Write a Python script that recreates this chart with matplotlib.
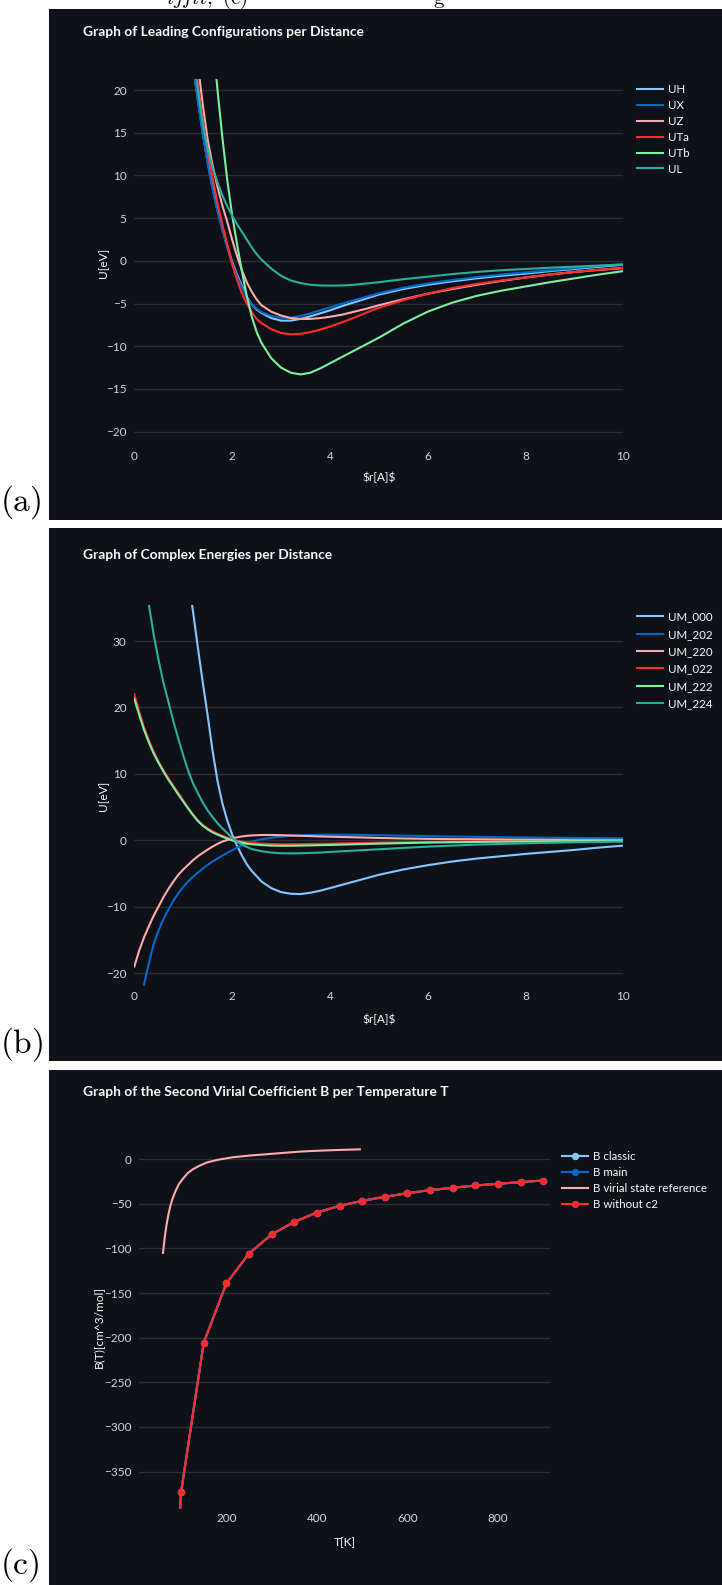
import numpy as np
import matplotlib
matplotlib.use("Agg")
import matplotlib.pyplot as plt
from matplotlib.patches import Rectangle

nan = np.nan

# ---------------- (a) leading configurations, U [eV] vs r [A] ----------------
r_lead = [1.1, 1.2, 1.3, 1.4, 1.5, 1.6, 1.7, 1.8, 1.9, 2.0, 2.1, 2.2, 2.3, 2.4, 2.5, 2.6,
          2.8, 3.0, 3.2, 3.4, 3.6, 3.8, 4.0, 4.25, 4.5, 4.75, 5.0, 5.5, 6.0, 6.5, 7.0, 7.5,
          8.0, 8.5, 9.0, 9.5, 10.0]
UH = [27.5, 23.0, 18.9, 15.0, 11.6, 8.7, 6.0, 3.9, 1.8, -0.1, -1.6, -2.9, -4.2, -5.1, -5.7, -6.1,
      -6.7, -7.0, -7.0, -6.8, -6.5, -6.15, -5.8, -5.3, -4.85, -4.4, -3.95, -3.3, -2.8, -2.4, -2.05, -1.75,
      -1.5, -1.2, -0.95, -0.7, -0.45]
UX = [27.0, 22.8, 18.7, 14.9, 11.4, 8.4, 5.8, 3.6, 1.6, -0.3, -1.8, -3.1, -4.3, -5.1, -5.6, -6.0,
      -6.45, -6.65, -6.65, -6.45, -6.15, -5.8, -5.45, -5.0, -4.6, -4.2, -3.8, -3.15, -2.65, -2.25, -1.9, -1.6,
      -1.35, -1.1, -0.85, -0.6, -0.35]
UZ = [35.0, 28.5, 23.0, 18.3, 14.2, 11.2, 8.7, 6.5, 4.6, 2.5, 0.6, -1.1, -2.5, -3.6, -4.5, -5.2,
      -5.95, -6.4, -6.7, -6.8, -6.8, -6.7, -6.55, -6.3, -5.95, -5.6, -5.2, -4.5, -3.85, -3.3, -2.8, -2.35,
      -1.95, -1.6, -1.3, -1.05, -0.85]
UTa = [31.0, 25.5, 20.8, 16.5, 12.8, 9.7, 6.8, 4.3, 1.9, -0.4, -2.2, -3.8, -5.0, -6.0, -6.8, -7.3,
       -8.0, -8.45, -8.6, -8.55, -8.35, -8.05, -7.7, -7.2, -6.65, -6.05, -5.5, -4.6, -3.85, -3.2, -2.7, -2.3,
       -1.95, -1.6, -1.3, -1.05, -0.8]
UTb = [60.0, 52.0, 44.0, 37.0, 31.0, 26.0, 20.1, 14.5, 9.5, 5.4, 2.0, -1.2, -4.1, -6.5, -8.3, -9.6,
       -11.4, -12.5, -13.1, -13.3, -13.1, -12.6, -12.0, -11.25, -10.5, -9.75, -9.0, -7.35, -5.95, -4.9, -4.1, -3.5,
       -3.0, -2.5, -2.05, -1.6, -1.2]
UL = [30.0, 24.6, 20.0, 16.0, 13.1, 10.9, 9.2, 7.7, 6.4, 5.3, 4.3, 3.4, 2.5, 1.6, 0.8, 0.15,
      -0.9, -1.75, -2.3, -2.6, -2.8, -2.88, -2.9, -2.88, -2.8, -2.65, -2.5, -2.15, -1.85, -1.55, -1.3, -1.1,
      -0.95, -0.8, -0.68, -0.55, -0.45]
lead_names = ["UH", "UX", "UZ", "UTa", "UTb", "UL"]
lead_series = [UH, UX, UZ, UTa, UTb, UL]
lead_yticks = [20, 15, 10, 5, 0, -5, -10, -15, -20]
dist_xticks = [0, 2, 4, 6, 8, 10]

# ---------------- (b) complex energies, U [eV] vs r [A] ----------------
r_cplx = [0.0, 0.1, 0.2, 0.3, 0.4, 0.5, 0.6, 0.7, 0.8, 0.9, 1.0, 1.1, 1.2, 1.3, 1.4, 1.5,
          1.6, 1.7, 1.8, 1.9, 2.0, 2.1, 2.2, 2.3, 2.4, 2.6, 2.8, 3.0, 3.2, 3.4, 3.6, 3.8,
          4.0, 4.5, 5.0, 5.5, 6.0, 6.5, 7.0, 7.5, 8.0, 8.5, 9.0, 9.5, 10.0]
UM_000 = [nan, nan, nan, nan, nan, nan, nan, nan, nan, nan, 47.0, 39.5, 34.5, 29.0, 23.8, 18.8,
          13.5, 9.0, 5.6, 3.0, 0.9, -0.8, -2.3, -3.6, -4.6, -6.2, -7.2, -7.8, -8.05, -8.1, -7.9, -7.6,
          -7.2, -6.2, -5.2, -4.4, -3.75, -3.2, -2.75, -2.4, -2.05, -1.75, -1.45, -1.1, -0.8]
UM_202 = [nan, nan, -21.7, -18.4, -15.5, -13.5, -11.8, -10.4, -9.1, -8.0, -7.0, -6.2, -5.5, -4.85, -4.25, -3.7,
          -3.2, -2.75, -2.3, -1.9, -1.5, -1.1, -0.75, -0.45, -0.2, 0.15, 0.38, 0.55, 0.66, 0.74, 0.8, 0.83,
          0.85, 0.82, 0.76, 0.7, 0.63, 0.57, 0.52, 0.47, 0.43, 0.39, 0.36, 0.33, 0.3]
UM_220 = [-19.0, -16.6, -14.6, -12.9, -11.3, -9.9, -8.5, -7.3, -6.2, -5.2, -4.4, -3.7, -3.0, -2.4, -1.9, -1.4,
          -0.95, -0.55, -0.2, 0.05, 0.3, 0.45, 0.58, 0.67, 0.73, 0.8, 0.8, 0.77, 0.73, 0.68, 0.63, 0.58,
          0.54, 0.45, 0.35, 0.27, 0.22, 0.18, 0.15, 0.12, 0.1, 0.08, 0.07, 0.06, 0.05]
UM_022 = [22.0, 19.4, 17.0, 15.0, 13.3, 11.8, 10.5, 9.3, 8.2, 7.1, 6.0, 4.9, 3.9, 3.0, 2.3, 1.8,
          1.35, 1.0, 0.7, 0.4, 0.15, -0.05, -0.2, -0.3, -0.4, -0.5, -0.55, -0.6, -0.6, -0.58, -0.55, -0.52,
          -0.5, -0.42, -0.35, -0.3, -0.25, -0.2, -0.17, -0.14, -0.12, -0.1, -0.08, -0.06, -0.05]
UM_222 = [21.3, 18.9, 16.6, 14.7, 13.0, 11.6, 10.3, 9.1, 8.0, 6.9, 5.85, 4.8, 3.8, 2.9, 2.2, 1.65,
          1.2, 0.85, 0.55, 0.25, 0.0, -0.2, -0.35, -0.5, -0.6, -0.72, -0.8, -0.82, -0.82, -0.8, -0.77, -0.73,
          -0.7, -0.6, -0.5, -0.42, -0.35, -0.3, -0.25, -0.2, -0.17, -0.14, -0.12, -0.1, -0.08]
UM_224 = [nan, nan, 41.0, 35.4, 30.8, 27.0, 23.6, 20.8, 17.9, 15.3, 12.8, 10.5, 8.6, 7.1, 5.7, 4.5,
          3.5, 2.6, 1.8, 1.1, 0.35, -0.2, -0.65, -1.0, -1.3, -1.65, -1.85, -1.95, -1.97, -1.95, -1.9, -1.85,
          -1.75, -1.55, -1.35, -1.15, -0.95, -0.8, -0.65, -0.55, -0.45, -0.37, -0.3, -0.25, -0.2]
cplx_names = ["UM_000", "UM_202", "UM_220", "UM_022", "UM_222", "UM_224"]
cplx_series = [UM_000, UM_202, UM_220, UM_022, UM_222, UM_224]
cplx_yticks = [30, 20, 10, 0, -10, -20]

# ---------------- (c) second virial coefficient B(T) ----------------
T_calc = [50, 100, 150, 200, 250, 300, 350, 400, 450, 500, 550, 600, 650, 700, 750, 800, 850, 900]
B_without_c2 = [-800.0, -373.0, -205.5, -139.3, -105.7, -84.4, -70.2, -59.8, -52.3, -46.7, -42.2,
                -38.1, -34.7, -32.1, -29.5, -27.6, -25.7, -23.9]
B_classic = list(B_without_c2)
B_main = list(B_without_c2)
T_ref = [60, 64, 68, 72, 76, 80, 87, 95, 105, 115, 127, 140, 157, 180, 200, 215, 250, 290,
         330, 363, 400, 436, 495]
B_ref = [-105.0, -87.0, -73.0, -62.0, -53.0, -46.0, -36.5, -28.0, -21.3, -15.5, -11.0, -7.5, -3.7,
         -0.8, 0.9, 2.2, 4.0, 5.6, 7.2, 8.5, 9.4, 10.1, 11.0]
virial_yticks = [0, -50, -100, -150, -200, -250, -300, -350]
virial_xticks = [200, 400, 600, 800]

# ---------------- style ----------------
BG = "#0e1117"
GRID = "#2b2e37"
TICK = "#d3d6dd"
TEXT = "#fafafa"
C_LBLUE, C_BLUE, C_PINK = "#83c9ff", "#0068c9", "#ffabab"
C_RED, C_LGREEN, C_TEAL = "#ff2b2b", "#7defa1", "#29b09d"
lead_colors = [C_LBLUE, C_BLUE, C_PINK, C_RED, C_LGREEN, C_TEAL]
cplx_colors = [C_LBLUE, C_BLUE, C_PINK, C_RED, C_LGREEN, C_TEAL]

plt.rcParams['font.family'] = ['Lato', 'DejaVu Sans']
plt.rcParams['mathtext.fontset'] = 'cm'
plt.rcParams['axes.unicode_minus'] = True

W, H = 722.0, 1585.0
fig = plt.figure(figsize=(W / 100, H / 100), dpi=100)
fig.patch.set_facecolor('white')


def fx(x):
    return x / W


def fy(y):
    return 1.0 - y / H


def dark_panel(top, bottom):
    fig.add_artist(Rectangle((fx(48.5), fy(bottom)), 1.0 - fx(48.5), (bottom - top) / H,
                             transform=fig.transFigure, facecolor=BG, edgecolor='none', zorder=-10))


def plot_axes(left, right, top, bottom, ypad=5.5):
    ax = fig.add_axes([fx(left), fy(bottom), (right - left) / W, (bottom - top) / H])
    ax.set_facecolor(BG)
    for s in ax.spines.values():
        s.set_visible(False)
    ax.grid(axis='y', color=GRID, linewidth=1.0)
    ax.grid(axis='x', visible=False)
    ax.set_axisbelow(True)
    ax.tick_params(axis='both', length=0, labelsize=8.5, labelcolor=TICK)
    ax.tick_params(axis='y', pad=ypad)
    ax.tick_params(axis='x', pad=3.0)
    return ax


def legend(ax, x, y_first, spacing):
    ax.legend(loc='upper left', bbox_to_anchor=(fx(x), fy(y_first - 7.0)),
              bbox_transform=fig.transFigure, frameon=False, fontsize=8.3,
              handlelength=2.25, handletextpad=0.4, labelspacing=spacing,
              borderpad=0, borderaxespad=0, labelcolor=TEXT, numpoints=1)


def title(y, text):
    fig.text(fx(83), fy(y), text, fontsize=9.9, fontweight='bold', color=TEXT,
             ha='left', va='center')


def axis_titles(xlabel, x_center, x_y, ylabel, y_x, y_center):
    fig.text(fx(x_center), fy(x_y), xlabel, fontsize=8.6, color=TEXT, ha='center', va='center')
    fig.text(fx(y_x), fy(y_center), ylabel, fontsize=8.6, color=TEXT, ha='center', va='center',
             rotation=90)


# caption line running off the top of the page
fig.text(fx(166), fy(4.0), r"$ijfit,\ (\mathrm{c})$", fontsize=15, color='black',
         ha='left', va='baseline')
fig.text(fx(433), fy(4.0), r"$\mathrm{g}$", fontsize=15, color='black', ha='left', va='baseline')

# ---------------- panel (a) ----------------
dark_panel(9, 520)
ax_a = plot_axes(134.3, 623.3, 79, 447)
for name, vals, col in zip(lead_names, lead_series, lead_colors):
    ax_a.plot(r_lead, vals, color=col, lw=1.5, label=name)
ax_a.set_xlim(0, 10)
ax_a.set_ylim(-21.8, 21.3)
ax_a.set_yticks(lead_yticks)
ax_a.set_xticks(dist_xticks)
legend(ax_a, 637, 91.3, 0.42)
title(31.7, "Graph of Leading Configurations per Distance")
axis_titles(r"\$r[A]\$", 378.8, 477, "U[eV]", 104, 263)
fig.text(fx(0), fy(511), r"$(\mathrm{a})$", fontsize=24, color='black', ha='left', va='baseline')

# ---------------- panel (b) ----------------
dark_panel(528, 1061)
ax_b = plot_axes(134.3, 623.3, 605.2, 986.4)
for name, vals, col in zip(cplx_names, cplx_series, cplx_colors):
    ax_b.plot(r_cplx, vals, color=col, lw=1.5, label=name)
ax_b.set_xlim(0, 10)
ax_b.set_ylim(-22.0, 35.4)
ax_b.set_yticks(cplx_yticks)
ax_b.set_xticks(dist_xticks)
legend(ax_b, 637, 618.3, 0.55)
title(555, "Graph of Complex Energies per Distance")
axis_titles(r"\$r[A]\$", 378.8, 1019, "U[eV]", 104, 796)
fig.text(fx(0), fy(1053), r"$(\mathrm{b})$", fontsize=24, color='black', ha='left', va='baseline')

# ---------------- panel (c) ----------------
dark_panel(1070, 1585)
ax_c = plot_axes(139, 550, 1144, 1509, ypad=5.3)
ax_c.plot(T_calc, B_classic, color=C_LBLUE, lw=1.5, marker='o', ms=4.3, label="B classic")
ax_c.plot(T_calc, B_main, color=C_BLUE, lw=1.5, marker='o', ms=4.3, label="B main")
ax_c.plot(T_ref, B_ref, color=C_PINK, lw=1.5, label="B virial state reference")
ax_c.plot(T_calc, B_without_c2, color=C_RED, lw=1.5, marker='o', ms=4.3, label="B without c2")
ax_c.set_xlim(7, 915)
ax_c.set_ylim(-392, 17)
ax_c.set_yticks(virial_yticks)
ax_c.set_xticks(virial_xticks)
legend(ax_c, 562.3, 1158.5, 0.42)
title(1092, "Graph of the Second Virial Coefficient B per Temperature T")
axis_titles("T[K]", 344.5, 1543, "B(T)[cm^3/mol]", 98, 1326.5)
fig.text(fx(0), fy(1574), r"$(\mathrm{c})$", fontsize=24, color='black', ha='left', va='baseline')

fig.savefig("out.png", dpi=100, facecolor=fig.get_facecolor())
